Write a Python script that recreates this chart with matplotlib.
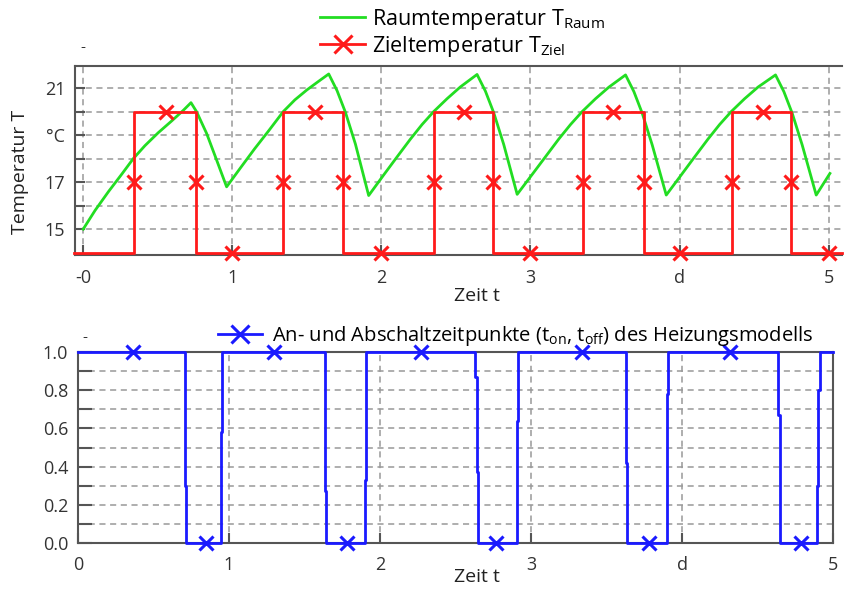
import matplotlib
matplotlib.use("Agg")
import matplotlib.pyplot as plt
from matplotlib.ticker import FixedLocator, FixedFormatter

plt.rcParams['font.family'] = ['Open Sans', 'DejaVu Sans']
plt.rcParams['mathtext.fontset'] = 'custom'
plt.rcParams['mathtext.rm'] = 'Open Sans'
plt.rcParams['mathtext.it'] = 'Open Sans:italic'

# ---------------- data ----------------
# Raumtemperatur (green)
raum_t = [0.0, 0.08, 0.17, 0.26, 0.336, 0.414, 0.503, 0.593, 0.671, 0.723,
          0.761, 0.828, 0.895, 0.962,
          1.06, 1.15, 1.24, 1.342, 1.42, 1.50, 1.575, 1.647,
          1.703, 1.759, 1.826, 1.915,
          2.015, 2.105, 2.195, 2.273, 2.351, 2.441, 2.53, 2.642,
          2.698, 2.754, 2.821, 2.911,
          3.011, 3.101, 3.191, 3.269, 3.347, 3.437, 3.526, 3.638,
          3.694, 3.75, 3.817, 3.911,
          4.011, 4.101, 4.191, 4.269, 4.347, 4.437, 4.526, 4.644,
          4.70, 4.756, 4.823, 4.917, 5.009]
raum_v = [15.0, 15.8, 16.6, 17.35, 18.0, 18.55, 19.1, 19.6, 20.05, 20.38,
          19.99, 19.07, 17.94, 16.8,
          17.65, 18.42, 19.15, 20.0, 20.5, 20.92, 21.27, 21.6,
          20.89, 19.97, 18.62, 16.43,
          17.3, 18.07, 18.83, 19.45, 20.0, 20.55, 21.05, 21.58,
          20.87, 19.95, 18.6, 16.48,
          17.32, 18.08, 18.84, 19.45, 20.0, 20.55, 21.04, 21.56,
          20.85, 19.93, 18.58, 16.45,
          17.3, 18.07, 18.83, 19.45, 20.0, 20.55, 21.04, 21.56,
          20.85, 19.93, 18.58, 16.45, 17.37]

# Zieltemperatur (red, step)
ziel_t = [-0.06, 0.34, 0.755, 1.342, 1.745, 2.35, 2.75, 3.35, 3.76, 4.35, 4.745, 5.09]
ziel_v = [14, 20, 14, 20, 14, 20, 14, 20, 14, 20, 14, 14]
ziel_mark_t = [0.34, 0.555, 0.755, 1.0,
               1.342, 1.555, 1.745, 2.0,
               2.35, 2.555, 2.75, 3.0,
               3.35, 3.557, 3.76, 4.0,
               4.35, 4.557, 4.745, 5.0]
ziel_mark_v = [17, 20, 17, 14] * 5

# Heizung an/aus (blue, step)
heiz_t = [0.0, 0.709, 0.715, 0.945, 0.952, 1.636, 1.642, 1.902, 1.907,
          2.629, 2.640, 2.651, 2.905, 2.916, 3.627, 3.633, 3.898, 3.909,
          4.638, 4.649, 4.892, 4.898, 4.914, 5.0]
heiz_v = [1, 0.3, 0, 0.58, 1, 0.27, 0, 0.33, 1,
          0.87, 0.37, 0, 0.64, 1, 0.42, 0, 0.78, 1,
          0.67, 0, 0.3, 0.8, 1, 1]
heiz_mark_t = [0.366, 0.85, 1.30, 1.78, 2.27, 2.77, 3.34, 3.78, 4.32, 4.79]
heiz_mark_v = [1, 0, 1, 0, 1, 0, 1, 0, 1, 0]

top_xticks = [0, 1, 2, 3, 4, 5]
top_xlabels = ['-0', '1', '2', '3', 'd', '5']
top_yticks = [15, 16, 17, 18, 19, 20, 21]
top_ylabels = ['15', '', '17', '', '°C', '', '21']
bot_xticks = [0, 1, 2, 3, 4, 5]
bot_xlabels = ['0', '1', '2', '3', 'd', '5']
bot_yticks = [0.0, 0.1, 0.2, 0.3, 0.4, 0.5, 0.6, 0.7, 0.8, 0.9, 1.0]
bot_ylabels = ['0.0', '', '0.2', '', '0.4', '', '0.6', '', '0.8', '', '1.0']

GREEN = '#22dd22'
RED = '#ff1a1a'
BLUE = '#1a1aff'
SPINE = '#555555'
GRID = '#999999'
TICKC = '#333333'

W, H = 844, 590
fig = plt.figure(figsize=(W / 100, H / 100), dpi=100)

def fx(px):
    return px / W

def fy(py):
    return 1 - py / H

# ---------------- top axes ----------------
ax1 = fig.add_axes([fx(75), fy(255), fx(842) - fx(75), fy(66) - fy(255)])
l_raum, = ax1.plot(raum_t, raum_v, color=GREEN, lw=2, zorder=3)
ax1.plot(ziel_t, ziel_v, color=RED, lw=2, drawstyle='steps-post', zorder=4, clip_on=False)
ax1.plot(ziel_mark_t, ziel_mark_v, ls='none', marker='x', ms=10, mew=2.2, color=RED,
         zorder=5, clip_on=False)
l_ziel, = ax1.plot([], [], color=RED, lw=2, marker='x', ms=13, mew=2.2)
ax1.set_xlim(-0.055, 5.09)
ax1.set_ylim(13.9, 21.94)
ax1.xaxis.set_major_locator(FixedLocator(top_xticks))
ax1.xaxis.set_major_formatter(FixedFormatter(top_xlabels))
ax1.yaxis.set_major_locator(FixedLocator(top_yticks))
ax1.yaxis.set_major_formatter(FixedFormatter(top_ylabels))
ax1.grid(True, color=GRID, ls=(0, (4, 3)), lw=1.1)
ax1.tick_params(axis='both', direction='in', color=SPINE, width=1.5, labelcolor=TICKC,
                labelsize=13)
ax1.tick_params(axis='y', length=7, pad=7)
ax1.tick_params(axis='x', length=7, pad=10)
for s in ['left', 'top', 'bottom']:
    ax1.spines[s].set_color(SPINE)
    ax1.spines[s].set_linewidth(1.5)
ax1.spines['right'].set_visible(False)
fig.text(fx(20), fy(172), 'Temperatur T', rotation=90, fontsize=14, color='#222222',
         ha='center', va='center')

fig.legend([l_raum, l_ziel],
           ['Raumtemperatur T$_\\mathrm{Raum}$', 'Zieltemperatur T$_\\mathrm{Ziel}$'],
           loc='upper left', bbox_to_anchor=(fx(320), fy(7)), frameon=False,
           fontsize=15.5, handlelength=2.1, handletextpad=0.3, labelspacing=0.08,
           borderaxespad=0, borderpad=0)

fig.text(fx(83), fy(47), '-', fontsize=11, ha='center', va='center', color=TICKC)
fig.text(fx(477), fy(296), 'Zeit t', fontsize=14, ha='center', va='center', color='#222222')

# ---------------- bottom axes ----------------
ax2 = fig.add_axes([fx(78), fy(543), fx(833) - fx(78), fy(352) - fy(543)])
ax2.plot(heiz_t, heiz_v, color=BLUE, lw=2, drawstyle='steps-post', zorder=4, clip_on=False)
ax2.plot(heiz_mark_t, heiz_mark_v, ls='none', marker='x', ms=10, mew=2.2, color=BLUE,
         zorder=5, clip_on=False)
l_heiz, = ax2.plot([], [], color=BLUE, lw=2, marker='x', ms=13, mew=2.2)
ax2.set_xlim(0, 5)
ax2.set_ylim(0, 1)
ax2.xaxis.set_major_locator(FixedLocator(bot_xticks))
ax2.xaxis.set_major_formatter(FixedFormatter(bot_xlabels))
ax2.yaxis.set_major_locator(FixedLocator(bot_yticks))
ax2.yaxis.set_major_formatter(FixedFormatter(bot_ylabels))
ax2.grid(True, color=GRID, ls=(0, (4, 3)), lw=1.1)
ax2.tick_params(axis='both', direction='in', color=SPINE, width=1.5, labelcolor=TICKC,
                labelsize=13)
ax2.tick_params(axis='y', length=10, pad=7)
ax2.tick_params(axis='x', length=7, pad=9)
for s in ['left', 'top', 'bottom', 'right']:
    ax2.spines[s].set_color(SPINE)
    ax2.spines[s].set_linewidth(1.5)

fig.legend([l_heiz],
           ['An- und Abschaltzeitpunkte (t$_\\mathrm{on}$, t$_\\mathrm{off}$) des Heizungsmodells'],
           loc='upper left', bbox_to_anchor=(fx(218), fy(324)), frameon=False,
           fontsize=14.5, handlelength=2.2, handletextpad=0.5,
           borderaxespad=0, borderpad=0)

fig.text(fx(85), fy(337), '-', fontsize=11, ha='center', va='center', color=TICKC)
fig.text(fx(477), fy(577), 'Zeit t', fontsize=14, ha='center', va='center', color='#222222')

fig.savefig('out.png', dpi=100)
